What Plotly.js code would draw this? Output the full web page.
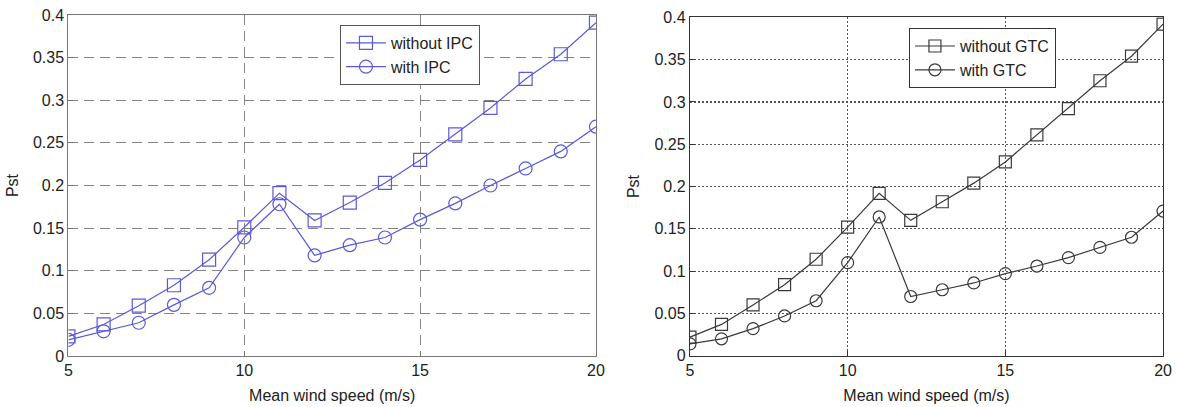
<!DOCTYPE html>
<html>
<head>
<meta charset="utf-8">
<script src="https://cdn.plot.ly/plotly-3.0.1.min.js"></script>
<style>html,body{margin:0;padding:0;background:#fff;}#chart{width:1178px;height:407px;}</style>
</head>
<body>
<div id="chart"></div>
<script>
const windSpeed = [5,6,7,8,9,10,11,12,13,14,15,16,17,18,19,20];
const withoutIPC = [0.023,0.037,0.059,0.083,0.113,0.151,0.191,0.159,0.180,0.203,0.230,0.260,0.291,0.325,0.354,0.391];
const withIPC    = [0.019,0.029,0.039,0.060,0.080,0.139,0.178,0.118,0.130,0.139,0.160,0.179,0.200,0.220,0.240,0.269];
const withoutGTC = [0.022,0.037,0.060,0.084,0.114,0.152,0.192,0.160,0.182,0.204,0.229,0.261,0.292,0.325,0.354,0.392];
const withGTC    = [0.014,0.020,0.032,0.047,0.065,0.110,0.164,0.070,0.078,0.086,0.097,0.106,0.116,0.128,0.140,0.171];
const xTicks = [5,10,15,20];
const yTicks = [0,0.05,0.1,0.15,0.2,0.25,0.3,0.35,0.4];
const yTickText = ['0','0.05','0.1','0.15','0.2','0.25','0.3','0.35','0.4'];

const blue = '#5a5ad8';
const dark = '#3a3a3a';
const font = "'Liberation Sans', Arial, sans-serif";

function tr(y, name, color, sym, xa, ya, leg, msize){
  return {x: windSpeed, y: y, name: name, type: 'scatter', mode: 'lines+markers',
    xaxis: xa, yaxis: ya, legend: leg,
    line: {color: color, width: 1.2},
    marker: {symbol: sym, size: msize, color: color, line: {color: color, width: 1.2}}};
}

const data = [
  tr(withoutIPC, 'without IPC', blue, 'square-open', 'x', 'y', 'legend', 13),
  tr(withIPC, 'with IPC', blue, 'circle-open', 'x', 'y', 'legend', 13),
  tr(withoutGTC, 'without GTC', dark, 'square-open', 'x2', 'y2', 'legend2', 12),
  tr(withGTC, 'with GTC', dark, 'circle-open', 'x2', 'y2', 'legend2', 12)
];

function xax(domain, anchor, gridcolor, griddash, linecolor){
  return {domain: domain, anchor: anchor, range: [5,20], tickvals: xTicks, ticktext: xTicks.map(String),
    showgrid: true, gridcolor: gridcolor, griddash: griddash, gridwidth: 1.2,
    showline: true, mirror: true, linecolor: linecolor, linewidth: 1.2,
    ticks: 'inside', ticklen: 5, tickcolor: linecolor, zeroline: false,
    tickfont: {size: 16, color: '#222', family: font},
    title: {text: 'Mean wind speed (m/s)', font: {size: 16, color: '#222', family: font}, standoff: 11}};
}
function yax(domain, anchor, gridcolor, griddash, linecolor){
  return {domain: domain, anchor: anchor, range: [0,0.4], tickvals: yTicks, ticktext: yTickText,
    showgrid: true, gridcolor: gridcolor, griddash: griddash, gridwidth: 1.2,
    showline: true, mirror: true, linecolor: linecolor, linewidth: 1.2,
    ticks: 'inside', ticklen: 5, tickcolor: linecolor, zeroline: false,
    tickfont: {size: 16, color: '#222', family: font},
    title: {text: 'Pst', font: {size: 16, color: '#222', family: font}, standoff: 10}};
}

const layout = {
  width: 1178, height: 407,
  margin: {l: 0, r: 0, t: 0, b: 0},
  paper_bgcolor: '#fff', plot_bgcolor: '#fff',
  font: {family: font, size: 16, color: '#222'},
  showlegend: true,
  xaxis: xax([0.0581, 0.5059], 'y', '#858585', '10px,6px', '#777'),
  yaxis: yax([0.1253, 0.9631], 'x', '#858585', '10px,6px', '#777'),
  xaxis2: xax([0.5857, 0.9873], 'y2', '#555', '2px,2px', '#333'),
  yaxis2: yax([0.126, 0.9575], 'x2', '#555', '2px,2px', '#333'),
  legend: {x: 0.2886, y: 0.9386, xanchor: 'left', yanchor: 'top', bgcolor: '#fff',
    bordercolor: '#555', borderwidth: 1, font: {size: 16, family: font, color: '#222'},
    tracegroupgap: 0, itemwidth: 40},
  legend2: {x: 0.7716, y: 0.931, xanchor: 'left', yanchor: 'top', bgcolor: '#fff',
    bordercolor: '#333', borderwidth: 1, font: {size: 16, family: font, color: '#222'},
    tracegroupgap: 0, itemwidth: 40}
};

Plotly.newPlot('chart', data, layout, {displayModeBar: false, staticPlot: true});
</script>
</body>
</html>
